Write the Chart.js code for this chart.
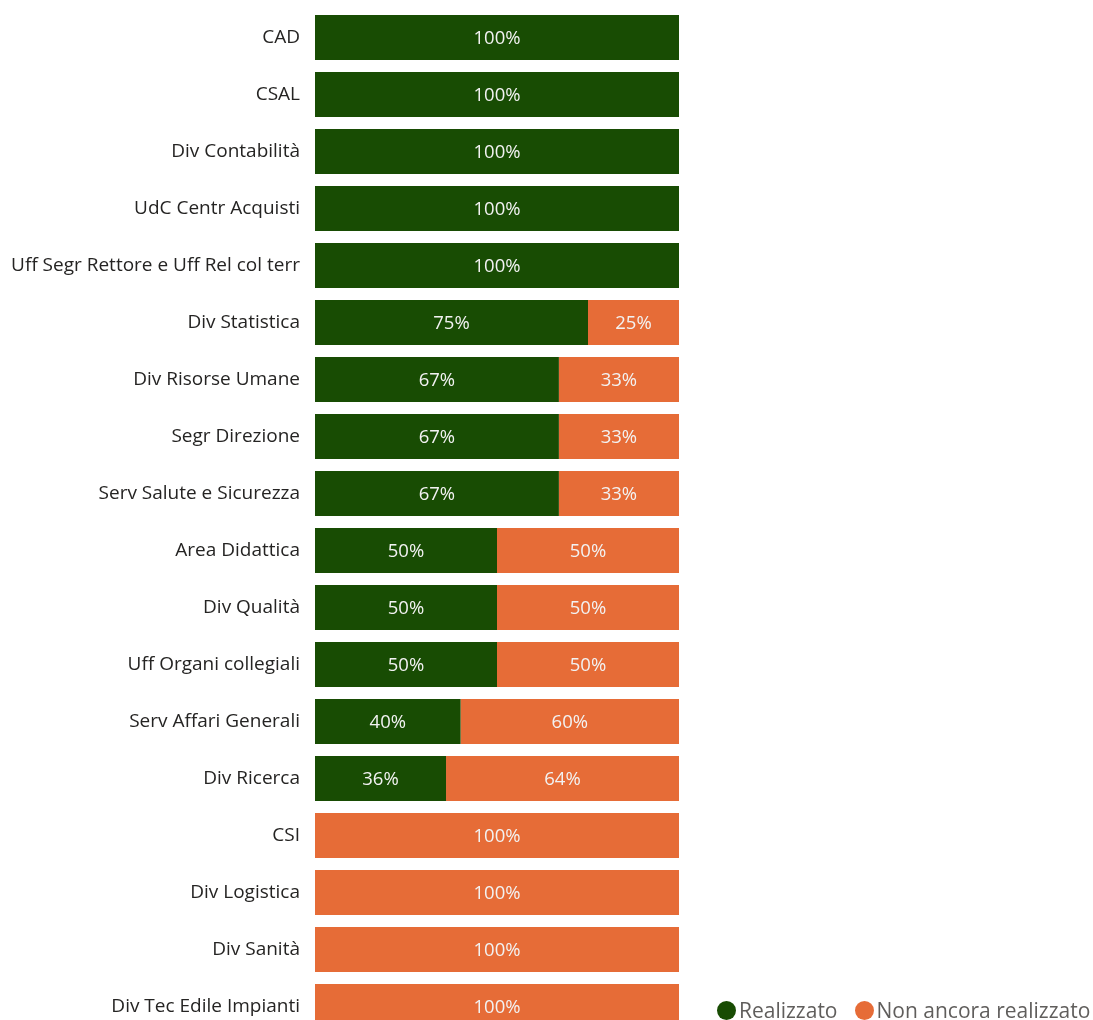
<!DOCTYPE html>
<html>
<head>
<meta charset="utf-8">
<script src="https://cdn.jsdelivr.net/npm/chart.js@4.4.1/dist/chart.umd.min.js"></script>
<style>
  html, body { margin: 0; padding: 0; background: #fff; overflow: hidden; }
  #wrap { position: relative; width: 1093px; height: 1040px; }
  #legend {
    position: absolute; left: 717px; top: 996px;
    font-family: "Open Sans", "Noto Sans", sans-serif; font-size: 21px; color: #605e5c;
    display: flex; align-items: center; white-space: nowrap; line-height: 28px;
  }
  #legend span.item { display: flex; align-items: center; margin-right: 17px; }
  #legend span.dot { width: 19px; height: 19px; border-radius: 50%; display: inline-block; margin-right: 3px; }
</style>
</head>
<body>
<div id="wrap">
  <canvas id="barChart"></canvas>
  <div id="legend"></div>
</div>
<script>
const uffici = ["CAD", "CSAL", "Div Contabilità", "UdC Centr Acquisti", "Uff Segr Rettore e Uff Rel col terr",
    "Div Statistica", "Div Risorse Umane", "Segr Direzione", "Serv Salute e Sicurezza", "Area Didattica",
    "Div Qualità", "Uff Organi collegiali", "Serv Affari Generali", "Div Ricerca", "CSI", "Div Logistica",
    "Div Sanità", "Div Tec Edile Impianti"];
const realizzato    = [100, 100, 100, 100, 100, 75, 67, 67, 67, 50, 50, 50, 40, 36, 0, 0, 0, 0];
const nonRealizzato = [0, 0, 0, 0, 0, 25, 33, 33, 33, 50, 50, 50, 60, 64, 100, 100, 100, 100];
const coloreVerde = "#184c03";
const coloreArancio = "#e66c37";

const fontFamily = "'Open Sans', 'Noto Sans', sans-serif";

// percent labels centred in each segment
const percentLabels = {
    id: 'percentLabels',
    afterDatasetsDraw(chart) {
        let ctx = chart.ctx;
        ctx.save();
        ctx.font = "18.5px " + fontFamily;
        ctx.fillStyle = "#f2f2f2";
        ctx.textAlign = "center";
        ctx.textBaseline = "middle";
        chart.data.datasets.forEach((ds, i) => {
            chart.getDatasetMeta(i).data.forEach((bar, j) => {
                let v = ds.data[j];
                if (!v) return;
                let p = bar.getProps(['x', 'y', 'base'], true);
                ctx.fillText(v + "%", (p.x + p.base) / 2, p.y + 1);
            });
        });
        ctx.restore();
    }
};

let data = {
    labels: uffici,
    datasets: [
        {
            label: "Realizzato",
            data: realizzato,
            backgroundColor: coloreVerde,
            barPercentage: 0.79,
            categoryPercentage: 1,
        },
        {
            label: "Non ancora realizzato",
            data: nonRealizzato,
            backgroundColor: coloreArancio,
            barPercentage: 0.79,
            categoryPercentage: 1,
        },
    ],
};

let config = {
    type: "bar",
    data: data,
    options: {
        indexAxis: 'y',
        responsive: true,
        maintainAspectRatio: false,
        animation: false,
        layout: {
            padding: { top: 9, bottom: 5, left: 0, right: 414 }
        },
        plugins: {
            legend: { display: false },
            tooltip: { enabled: false },
        },
        scales: {
            x: {
                stacked: true,
                display: false,
                min: 0,
                max: 100,
            },
            y: {
                stacked: true,
                grid: { display: false, drawTicks: false },
                border: { display: false },
                afterFit: (scale) => {
                    scale.width = 315;
                    scale.paddingTop = 0;
                    scale.paddingBottom = 0;
                },
                ticks: {
                    padding: 15,
                    color: "#252423",
                    font: { family: fontFamily, size: 19 },
                },
            },
        },
    },
    plugins: [percentLabels],
};

let ctx = document.getElementById("barChart").getContext("2d");
window.barChart = new Chart(ctx, config);

// legend
let legendDiv = document.getElementById("legend");
data.datasets.forEach(ds => {
    let item = document.createElement("span");
    item.className = "item";
    let dot = document.createElement("span");
    dot.className = "dot";
    dot.style.background = ds.backgroundColor;
    item.appendChild(dot);
    item.appendChild(document.createTextNode(ds.label));
    legendDiv.appendChild(item);
});
</script>
</body>
</html>
